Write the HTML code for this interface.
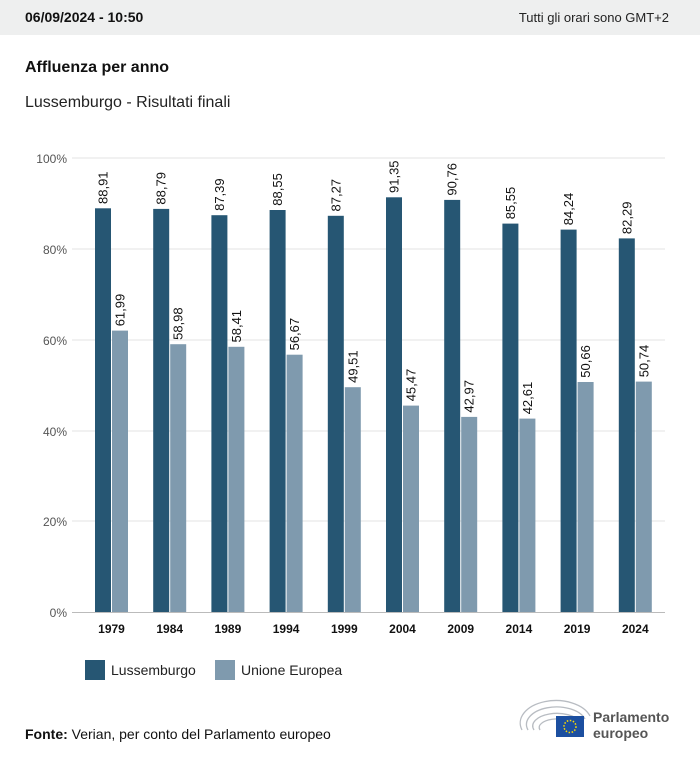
<!DOCTYPE html>
<html><head><meta charset="utf-8"><style>
body{margin:0;width:700px;height:760px;background:#fff;font-family:"Liberation Sans",sans-serif;overflow:hidden;position:relative}
.hdr{position:absolute;left:0;top:0;width:700px;height:35px;background:#eeefef}
</style></head><body>
<div class="hdr"></div>
<svg width="700" height="760" style="position:absolute;left:0;top:0" font-family="Liberation Sans, sans-serif">
<text x="25" y="22" font-size="14" font-weight="bold" fill="#111">06/09/2024 - 10:50</text>
<text x="669" y="22" font-size="13" fill="#222" text-anchor="end">Tutti gli orari sono GMT+2</text>
<text x="25" y="72" font-size="16" font-weight="bold" fill="#111">Affluenza per anno</text>
<text x="25" y="107" font-size="16" fill="#222">Lussemburgo - Risultati finali</text>
<g stroke="#e3e3e3" stroke-width="1">
<line x1="72" x2="665" y1="158" y2="158"/><line x1="72" x2="665" y1="249" y2="249"/><line x1="72" x2="665" y1="340" y2="340"/><line x1="72" x2="665" y1="431" y2="431"/><line x1="72" x2="665" y1="521" y2="521"/>
</g>
<line x1="72" x2="665" y1="612.5" y2="612.5" stroke="#bbb"/>
<g font-size="12" fill="#555" text-anchor="end">
<text x="67" y="163">100%</text><text x="67" y="254">80%</text><text x="67" y="345">60%</text><text x="67" y="436">40%</text><text x="67" y="526">20%</text><text x="67" y="617">0%</text>
</g>
<g fill="#265673">
<rect x="95" y="208.3" width="16" height="403.7"/><rect x="153.2" y="208.9" width="16" height="403.1"/><rect x="211.4" y="215.2" width="16" height="396.8"/><rect x="269.6" y="210" width="16" height="402"/><rect x="327.8" y="215.8" width="16" height="396.2"/><rect x="386" y="197.3" width="16" height="414.7"/><rect x="444.2" y="199.9" width="16" height="412.1"/><rect x="502.4" y="223.6" width="16" height="388.4"/><rect x="560.6" y="229.6" width="16" height="382.4"/><rect x="618.8" y="238.4" width="16" height="373.6"/>
</g>
<g fill="#7f9aae">
<rect x="112" y="330.6" width="16" height="281.4"/><rect x="170.2" y="344.2" width="16" height="267.8"/><rect x="228.4" y="346.8" width="16" height="265.2"/><rect x="286.6" y="354.7" width="16" height="257.3"/><rect x="344.8" y="387.2" width="16" height="224.8"/><rect x="403" y="405.6" width="16" height="206.4"/><rect x="461.2" y="416.9" width="16" height="195.1"/><rect x="519.4" y="418.6" width="16" height="193.4"/><rect x="577.6" y="382" width="16" height="230"/><rect x="635.8" y="381.6" width="16" height="230.4"/>
</g>
<g font-size="13" fill="#111">
<text transform="translate(107.5,204) rotate(-90)">88,91</text>
<text transform="translate(165.7,204.6) rotate(-90)">88,79</text>
<text transform="translate(223.9,210.9) rotate(-90)">87,39</text>
<text transform="translate(282.1,205.7) rotate(-90)">88,55</text>
<text transform="translate(340.3,211.5) rotate(-90)">87,27</text>
<text transform="translate(398.5,193) rotate(-90)">91,35</text>
<text transform="translate(456.7,195.6) rotate(-90)">90,76</text>
<text transform="translate(514.9,219.3) rotate(-90)">85,55</text>
<text transform="translate(573.1,225.3) rotate(-90)">84,24</text>
<text transform="translate(631.3,234.1) rotate(-90)">82,29</text>
<text transform="translate(124.5,326.3) rotate(-90)">61,99</text>
<text transform="translate(182.7,339.9) rotate(-90)">58,98</text>
<text transform="translate(240.9,342.5) rotate(-90)">58,41</text>
<text transform="translate(299.1,350.4) rotate(-90)">56,67</text>
<text transform="translate(357.3,382.9) rotate(-90)">49,51</text>
<text transform="translate(415.5,401.3) rotate(-90)">45,47</text>
<text transform="translate(473.7,412.6) rotate(-90)">42,97</text>
<text transform="translate(531.9,414.3) rotate(-90)">42,61</text>
<text transform="translate(590.1,377.7) rotate(-90)">50,66</text>
<text transform="translate(648.3,377.3) rotate(-90)">50,74</text>
</g>
<g font-size="12" font-weight="bold" fill="#111" text-anchor="middle">
<text x="111.5" y="633">1979</text><text x="169.7" y="633">1984</text><text x="227.9" y="633">1989</text><text x="286.1" y="633">1994</text><text x="344.3" y="633">1999</text><text x="402.5" y="633">2004</text><text x="460.7" y="633">2009</text><text x="518.9" y="633">2014</text><text x="577.1" y="633">2019</text><text x="635.3" y="633">2024</text>
</g>
<rect x="85" y="660" width="20" height="20" fill="#265673"/>
<text x="111" y="675" font-size="14" fill="#222">Lussemburgo</text>
<rect x="215" y="660" width="20" height="20" fill="#7f9aae"/>
<text x="241" y="675" font-size="14" fill="#222">Unione Europea</text>
<text x="25" y="739" font-size="14" fill="#111"><tspan font-weight="bold">Fonte:</tspan> Verian, per conto del Parlamento europeo</text>
<g fill="none" stroke="#b8bcc2" stroke-width="1.3">
<path d="M522 730 A35 22 0 0 1 590 716"/><path d="M528 730 A29 17 0 0 1 585 719"/><path d="M534 730 A23 12 0 0 1 580 722"/><path d="M540 730 A17 8 0 0 1 575 725"/>
</g>
<rect x="556" y="716" width="28" height="21" fill="#1c4fa0"/>
<circle cx="570" cy="726.5" r="6" fill="none" stroke="#ffdd00" stroke-width="1.5" stroke-dasharray="1.5 1.6"/>
<text x="593" y="722" font-size="14" font-weight="bold" fill="#555">Parlamento</text>
<text x="593" y="738" font-size="14" font-weight="bold" fill="#555">europeo</text>
</svg>
</body></html>
